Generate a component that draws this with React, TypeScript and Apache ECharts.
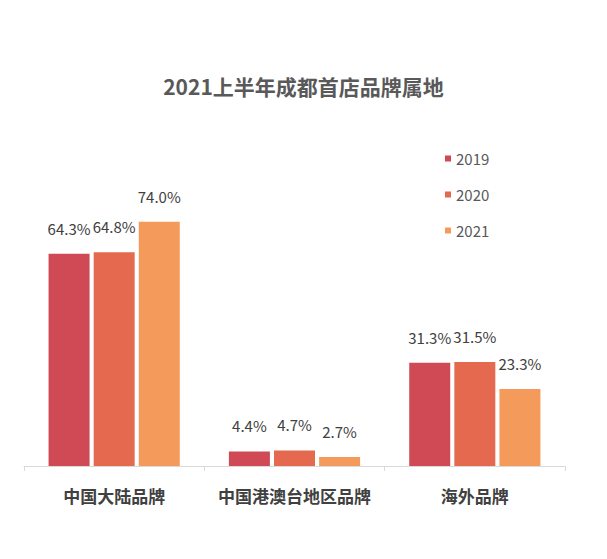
import React, { useEffect, useRef } from "react";
import * as echarts from "echarts";

const categories = ["中国大陆品牌", "中国港澳台地区品牌", "海外品牌"];
const seriesNames = ["2019", "2020", "2021"];
const values2019 = [64.3, 4.4, 31.3];
const values2020 = [64.8, 4.7, 31.5];
const values2021 = [74.0, 2.7, 23.3];
const colors = ["#CF4A55", "#E4694F", "#F49B5B"];
const titleText = "2021上半年成都首店品牌属地";

const FONT = "'Noto Sans CJK SC', 'Noto Sans', sans-serif";

export default function App() {
  const ref = useRef<HTMLDivElement>(null);
  useEffect(() => {
    if (!ref.current) return;
    const chart = echarts.init(ref.current, null, { renderer: "svg" });
    const data = [values2019, values2020, values2021];
    chart.setOption({
      animation: false,
      backgroundColor: "#ffffff",
      title: {
        text: titleText,
        left: "center",
        top: 70,
        textStyle: { fontSize: 21, fontWeight: "bold", color: "#595959", fontFamily: FONT },
      },
      legend: {
        orient: "vertical",
        left: 440,
        top: 146,
        icon: "rect",
        itemWidth: 6,
        itemHeight: 6,
        itemGap: 21,
        textStyle: { fontSize: 15, color: "#595959", fontFamily: FONT },
        data: seriesNames,
      },
      grid: { left: 24, right: 42, top: 202, bottom: 93, containLabel: false },
      xAxis: {
        type: "category",
        data: categories,
        axisLine: { show: true, lineStyle: { color: "#D9D9D9" } },
        axisTick: { show: true, length: 5, lineStyle: { color: "#D9D9D9" } },
        axisLabel: {
          interval: 0,
          fontSize: 17,
          fontWeight: "bold",
          color: "#404040",
          margin: 21,
          fontFamily: FONT,
        },
      },
      yAxis: { type: "value", min: 0, max: 80, show: false, splitLine: { show: false } },
      series: seriesNames.map((name, i) => ({
        name,
        type: "bar",
        data: data[i],
        barWidth: 41,
        barGap: "10%",
        itemStyle: { color: colors[i] },
        label: {
          show: true,
          position: "top",
          distance: 18,
          fontSize: 15,
          color: "#404040",
          fontFamily: FONT,
          formatter: (p: any) => Number(p.value).toFixed(1) + "%",
        },
        labelLayout: { hideOverlap: false },
      })),
    });
    return () => chart.dispose();
  }, []);
  return (
    <div
      ref={ref}
      style={{ position: "fixed", left: 0, top: 0, width: 607, height: 559 }}
    />
  );
}
